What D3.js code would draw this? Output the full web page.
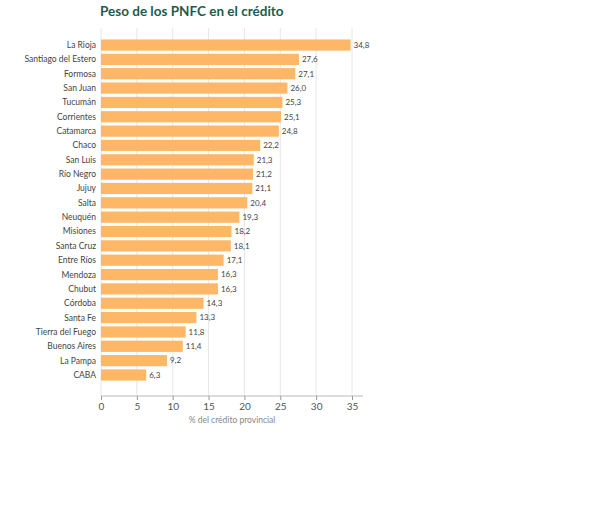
<!DOCTYPE html><html><head><meta charset="utf-8"><script src="https://cdn.jsdelivr.net/npm/d3@7"></script>
<style>body{margin:0;background:#fff;font-family:Lato,"Noto Sans",sans-serif}</style></head><body><svg id="c" width="590" height="514"></svg>
<script>
const provinces=["La Rioja","Santiago del Estero","Formosa","San Juan","Tucumán","Corrientes","Catamarca","Chaco","San Luis","Río Negro","Jujuy","Salta","Neuquén","Misiones","Santa Cruz","Entre Ríos","Mendoza","Chubut","Córdoba","Santa Fe","Tierra del Fuego","Buenos Aires","La Pampa","CABA"];
const values=[34.8,27.6,27.1,26.0,25.3,25.1,24.8,22.2,21.3,21.2,21.1,20.4,19.3,18.2,18.1,17.1,16.3,16.3,14.3,13.3,11.8,11.4,9.2,6.3];
const ticks=[0,5,10,15,20,25,30,35];
const svg=d3.select("#c");
const x=d3.scaleLinear().domain([0,35]).range([101,352]);
const y=d3.scaleBand().domain(provinces).range([38,382]).paddingInner(0.22).paddingOuter(0.1);
svg.append("text").attr("x",100).attr("y",16).attr("font-size",13.5).attr("font-weight",700).attr("fill","#1e5b4c").text("Peso de los PNFC en el crédito");
svg.append("g").selectAll("line").data(ticks).join("line").attr("x1",d=>x(d)).attr("x2",d=>x(d)).attr("y1",28).attr("y2",396).attr("stroke","#e6e6e6");
svg.append("g").selectAll("rect").data(values).join("rect").attr("x",x(0)).attr("y",(d,i)=>y(provinces[i])).attr("height",y.bandwidth()).attr("width",d=>x(d)-x(0)).attr("fill","#fdb766");
svg.append("g").selectAll("text").data(values).join("text").attr("x",d=>x(d)+3).attr("y",(d,i)=>y(provinces[i])+y.bandwidth()/2).attr("dy","0.35em").attr("font-size",8).attr("fill","#444").text(d=>d.toFixed(1).replace(".",","));
svg.append("g").selectAll("text").data(provinces).join("text").attr("x",96).attr("y",d=>y(d)+y.bandwidth()/2).attr("dy","0.35em").attr("text-anchor","end").attr("font-size",8.5).attr("fill","#444").text(d=>d);
const ax=svg.append("g").attr("transform","translate(0,396)").call(d3.axisBottom(x).tickValues(ticks).tickSize(4).tickSizeOuter(0));
ax.select(".domain").attr("stroke","#bbb").attr("d","M101,0H363");
ax.selectAll(".tick line").attr("stroke","#999");
ax.selectAll("text").attr("font-size",10).attr("fill","#555").attr("font-family","Lato,sans-serif");
svg.append("text").attr("x",232).attr("y",423).attr("text-anchor","middle").attr("font-size",8.5).attr("fill","#888").text("% del crédito provincial");
</script></body></html>
